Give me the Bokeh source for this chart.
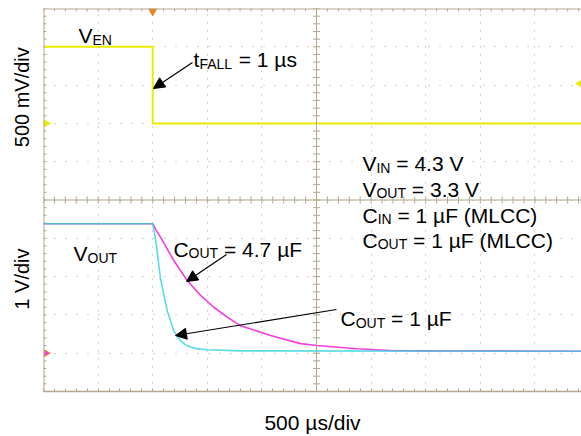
import numpy as np
from bokeh.plotting import figure
from bokeh.layouts import row
from bokeh.models import Range1d, FixedTicker, Span, Arrow, NormalHead, Grid
from bokeh.core.properties import value
from bokeh.embed import file_html
from bokeh.resources import INLINE

# ---------------- data ----------------
en_time_us = [0, 1000, 1000, 5000]
en_volts = [1.0, 1.0, 0.0, 0.0]

cout_4u7_time_us = [0, 1000, 1030, 1071, 1193, 1316, 1438, 1560, 1682, 1804, 2079, 2354, 2500, 2873, 3178, 3544, 5000]
cout_4u7_volts = [3.38, 3.38, 3.22, 3.03, 2.42, 1.90, 1.51, 1.20, 0.94, 0.72, 0.46, 0.25, 0.20, 0.115, 0.07, 0.06, 0.05]

cout_1u_time_us = [0, 1000, 1017, 1032, 1071, 1133, 1193, 1220, 1255, 1300, 1346, 1400, 1499, 1804, 5000]
cout_1u_volts = [3.38, 3.38, 3.15, 2.86, 1.95, 1.11, 0.59, 0.45, 0.33, 0.22, 0.16, 0.12, 0.09, 0.06, 0.05]

# scope settings
time_per_div = 500      # µs/div
en_per_div = 0.5        # V/div (top channel)
vout_per_div = 1.0      # V/div (bottom channel)
n_div = 10
trigger_time = 1000
trigger_level_en = 0.52

GRID = "#b3a78f"
YELLOW = "#ecec00"
MAGENTA = "#f23ee0"
CYAN = "#2fd3dc"
FONT = "Liberation Sans"

FRAME_W, FRAME_H = 538, 383
LEFT_W, TOP, BOTTOM = 43, 8, 45

# ---------------- main figure ----------------
x_end = FRAME_W / 546 * n_div * time_per_div   # scope screen is clipped on the right
y_top = 9 * vout_per_div
p = figure(width=FRAME_W, height=TOP + FRAME_H + BOTTOM, output_backend="svg", toolbar_location=None,
           x_range=Range1d(0, x_end), y_range=Range1d(-1 * vout_per_div, y_top),
           y_axis_location=None,
           min_border_left=0, min_border_right=0, min_border_top=TOP, min_border_bottom=BOTTOM,
           outline_line_color=None, background_fill_color="white", border_fill_color="white")
p.extra_y_ranges = {"en": Range1d(-7 * en_per_div, 3 * en_per_div)}
p.grid.visible = False

major_x = [i * time_per_div for i in range(n_div + 1)]
minor_x = [i * time_per_div / 5 for i in range(n_div * 5 + 1)]
major_y = [(-1 + i) * vout_per_div for i in range(n_div + 1)]
minor_y = [(-1 + i / 5) * vout_per_div for i in range(n_div * 5 + 1)]

ax = p.xaxis[0]
ax.ticker = FixedTicker(ticks=[], minor_ticks=minor_x)
ax.bounds = (0, n_div * time_per_div)
ax.axis_line_color = GRID
ax.axis_line_width = 1.5
ax.minor_tick_line_color = GRID
ax.minor_tick_in = 3
ax.minor_tick_out = 0
ax.major_tick_in = 0
ax.major_tick_out = 0
ax.major_label_standoff = 0
ax.axis_label = "500 µs/div"
ax.axis_label_text_font = FONT
ax.axis_label_text_font_style = "normal"
ax.axis_label_text_font_size = "21px"
ax.axis_label_text_color = "black"
ax.axis_label_standoff = 19

p.add_layout(Grid(dimension=0, ticker=FixedTicker(ticks=major_x), grid_line_color=GRID, grid_line_dash="1 7"))
p.add_layout(Grid(dimension=1, ticker=FixedTicker(ticks=major_y), grid_line_color=GRID, grid_line_dash="1 10"))

# left and top borders with inward ticks
p.add_layout(Span(location=0, dimension="height", line_color=GRID, line_width=2))
p.add_layout(Span(location=y_top, dimension="width", line_color=GRID, line_width=2))
p.scatter(x=[0] * len(minor_y), y=minor_y, marker="dash", size=6, line_color=GRID)
p.scatter(x=minor_x, y=[y_top] * len(minor_x), marker="dash", angle=np.pi / 2, size=6, line_color=GRID)

# centre crosshair with ticks
x_mid = n_div / 2 * time_per_div
y_mid = 4 * vout_per_div
p.add_layout(Span(location=x_mid, dimension="height", line_color=GRID, line_width=1))
p.add_layout(Span(location=y_mid, dimension="width", line_color=GRID, line_width=1))
p.scatter(x=[x_mid] * len(minor_y), y=minor_y, marker="dash", size=7, line_color=GRID)
p.scatter(x=minor_x, y=[y_mid] * len(minor_x), marker="dash", angle=np.pi / 2, size=7, line_color=GRID)

# ---------------- traces ----------------
p.line(cout_4u7_time_us, cout_4u7_volts, line_color=MAGENTA, line_width=1.6)
p.line(cout_1u_time_us, cout_1u_volts, line_color=CYAN, line_width=1.6, line_alpha=0.8)
p.line(en_time_us, en_volts, y_range_name="en", line_color=YELLOW, line_width=2)

# channel / trigger markers
p.scatter(x=[25], y=[0], y_range_name="en", marker="triangle", angle=-np.pi / 2, size=7,
          fill_color=YELLOW, line_color=YELLOW)
p.scatter(x=[25], y=[0], marker="triangle", angle=-np.pi / 2, size=7,
          fill_color=MAGENTA, line_color="#f09030")
p.scatter(x=[trigger_time], y=[8.93], marker="inverted_triangle", size=8,
          fill_color="#f08020", line_color="#f08020")
p.scatter(x=[x_end - 10], y=[trigger_level_en], y_range_name="en", marker="triangle",
          angle=np.pi / 2, size=8, fill_color=YELLOW, line_color=YELLOW)

# ---------------- annotations ----------------
WID = {' ': 278, '=': 584, '.': 278, 'V': 667, 'I': 278, 'N': 722, 'O': 778, 'U': 722,
       'T': 611, 'C': 722, 'E': 667, 'A': 667, 'L': 556, 'F': 611, 't': 278, 'µ': 576,
       's': 500, '(': 333, ')': 333, 'M': 833}
for d in "0123456789":
    WID[d] = 556
MAIN, SUB, SUB_DROP = 21, 14, 4
px_per_v = FRAME_H / n_div  # screen px per bottom-channel volt


def tw(s, size):
    return sum(WID.get(c, 556) for c in s) * size / 1000


def rich_label(x, y, parts):
    off = 0.0
    for txt, sub in parts:
        size = SUB if sub else MAIN
        yy = y - (SUB_DROP / px_per_v if sub else 0)
        stripped = txt.lstrip(" ")
        off += tw(txt[:len(txt) - len(stripped)], size)
        p.text(x=[x], y=[yy], text=[stripped], x_offset=off, text_font=value(FONT),
               text_font_size=value(f"{size}px"), text_color="black",
               text_align="left", text_baseline="alphabetic")
        off += tw(stripped, size)


rich_label(320, 8.295, [("V", False), ("EN", True)])
rich_label(1374, 7.668, [("t", False), ("FALL", True), (" = 1 µs", False)])
rich_label(275, 2.603, [("V", False), ("OUT", True)])
rich_label(1190, 2.708, [("C", False), ("OUT", True), (" = 4.7 µF", False)])
rich_label(2720, 0.906, [("C", False), ("OUT", True), (" = 1 µF", False)])
rich_label(2921, 4.953, [("V", False), ("IN", True), (" = 4.3 V", False)])
rich_label(2921, 4.287, [("V", False), ("OUT", True), (" = 3.3 V", False)])
rich_label(2921, 3.608, [("C", False), ("IN", True), (" = 1 µF (MLCC)", False)])
rich_label(2921, 2.943, [("C", False), ("OUT", True), (" = 1 µF (MLCC)", False)])

for xs, ys, xe, ye in [(1364, 7.59, 1007, 6.911), (1676, 2.577, 1310, 1.872), (2683, 1.141, 1209, 0.462)]:
    p.add_layout(Arrow(x_start=xs, y_start=ys, x_end=xe, y_end=ye, line_color="black", line_width=1.2,
                       end=NormalHead(size=11, fill_color="black", line_color="black")))

# ---------------- left strip with the channel scale labels ----------------
H = TOP + FRAME_H + BOTTOM
lp = figure(width=LEFT_W, height=H, output_backend="svg", toolbar_location=None,
            x_range=Range1d(0, LEFT_W), y_range=Range1d(H, 0),
            x_axis_location=None, y_axis_location=None,
            min_border_left=0, min_border_right=0, min_border_top=0, min_border_bottom=0,
            outline_line_color=None, background_fill_color="white", border_fill_color="white")
lp.grid.visible = False
scale_labels = ["500 mV/div", "1 V/div"]
scale_label_y = [101, 308]
lp.text(x=[21, 21], y=scale_label_y, text=scale_labels, angle=np.pi / 2, text_align="center",
        text_baseline="middle", text_font=value(FONT), text_font_size=value("20px"), text_color="black")

layout = row(lp, p, spacing=0)
open("out.html", "w").write(file_html(layout, INLINE))
